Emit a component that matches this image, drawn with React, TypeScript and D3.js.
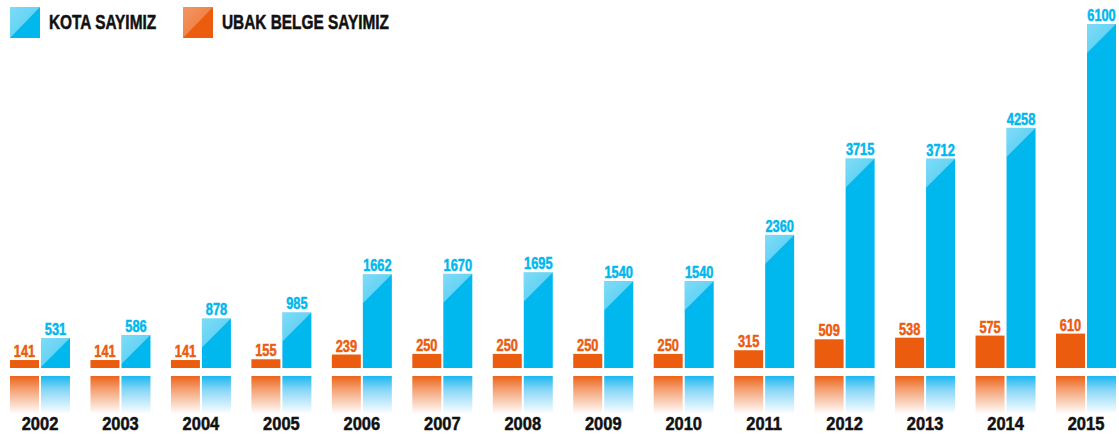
import React from "react";
import * as d3 from "d3";

const years = ["2002","2003","2004","2005","2006","2007","2008","2009","2010","2011","2012","2013","2014","2015"];
const ubakValues = [141,141,141,155,239,250,250,250,250,315,509,538,575,610];
const kotaValues = [531,586,878,985,1662,1670,1695,1540,1540,2360,3715,3712,4258,6100];
const seriesNames = ["KOTA SAYIMIZ", "UBAK BELGE SAYIMIZ"];

const W = 1119, H = 435;
const BLUE = "#00b7ee";
const ORANGE = "#ec5c0e";
const FONT = "'Liberation Sans', Arial, sans-serif";

function NText({ x, y, size, fill, anchor = "start", sx = 0.8, children }: any) {
  return (
    <text transform={`translate(${x},${y}) scale(${sx},1)`} textAnchor={anchor} fontFamily={FONT} fontWeight="bold" fontSize={size} fill={fill} stroke={fill} strokeWidth={0.5}>
      {children}
    </text>
  );
}

export default function App() {
  const baseline = 368;
  const y = d3.scaleLinear().domain([0, 6100]).range([baseline, 24]);
  const x = d3.scaleBand<string>().domain(years).range([10, 1116]).paddingInner(20.46 / 80.46).paddingOuter(0);
  const inner = d3.scaleBand<string>().domain(["ubak", "kota"]).range([0, x.bandwidth()]).paddingInner(2 / 31);
  const bw = inner.bandwidth();
  const reflTop = 376, reflH = 38;

  return (
    <svg width={W} height={H} style={{ position: "absolute", left: 0, top: 0, background: "#fff" }}>
      <defs>
        <linearGradient id="reflBlue" x1="0" y1="0" x2="0" y2="1">
          <stop offset="0" stopColor="#1ab8f0" />
          <stop offset="0.35" stopColor="#86d5f6" />
          <stop offset="1" stopColor="#ffffff" />
        </linearGradient>
        <linearGradient id="reflOrange" x1="0" y1="0" x2="0" y2="1">
          <stop offset="0" stopColor="#ed6419" />
          <stop offset="0.35" stopColor="#f4a072" />
          <stop offset="1" stopColor="#ffffff" />
        </linearGradient>
        <linearGradient id="glossBlue" x1="0" y1="0" x2="1" y2="1">
          <stop offset="0" stopColor="#ffffff" stopOpacity="0.5" />
          <stop offset="1" stopColor="#ffffff" stopOpacity="0.3" />
        </linearGradient>
        <linearGradient id="glossOrange" x1="0" y1="0" x2="1" y2="1">
          <stop offset="0" stopColor="#ffffff" stopOpacity="0.35" />
          <stop offset="1" stopColor="#ffffff" stopOpacity="0.15" />
        </linearGradient>
      </defs>

      {/* Legend */}
      <g>
        <rect x={10} y={7} width={30} height={31} fill={BLUE} />
        <path d="M10,7 L40,7 L10,38 Z" fill="url(#glossBlue)" />
        <NText x={49} y={29.3} size={20} fill="#111" sx={0.77}>{seriesNames[0]}</NText>
        <rect x={183} y={7} width={30} height={31} fill={ORANGE} />
        <path d="M183,7 L213,7 L183,38 Z" fill="url(#glossOrange)" />
        <NText x={222} y={29.3} size={20} fill="#111" sx={0.77}>{seriesNames[1]}</NText>
      </g>

      {years.map((yr, i) => {
        const gx = x(yr)!;
        const ox = gx + inner("ubak")!;
        const kx = gx + inner("kota")!;
        const oTop = y(ubakValues[i]);
        const kTop = y(kotaValues[i]);
        const kH = baseline - kTop;
        return (
          <g key={yr}>
            <rect x={ox} y={oTop} width={bw} height={baseline - oTop} fill={ORANGE} />
            <rect x={kx} y={kTop} width={bw} height={kH} fill={BLUE} />
            <path d={`M${kx},${kTop} L${kx + bw},${kTop} L${kx},${kTop + bw} Z`} fill="url(#glossBlue)" />
            <rect x={ox} y={reflTop} width={bw} height={reflH} fill="url(#reflOrange)" />
            <rect x={kx} y={reflTop} width={bw} height={reflH} fill="url(#reflBlue)" />
            <NText x={ox + bw / 2} y={oTop - 3} anchor="middle" size={16} fill={ORANGE} sx={0.8}>{ubakValues[i]}</NText>
            <NText x={kx + bw / 2} y={kTop - 3} anchor="middle" size={16} fill={BLUE} sx={0.8}>{kotaValues[i]}</NText>
            <NText x={gx + x.bandwidth() / 2} y={429.5} anchor="middle" size={18.5} fill="#111" sx={0.89}>{yr}</NText>
          </g>
        );
      })}
    </svg>
  );
}
